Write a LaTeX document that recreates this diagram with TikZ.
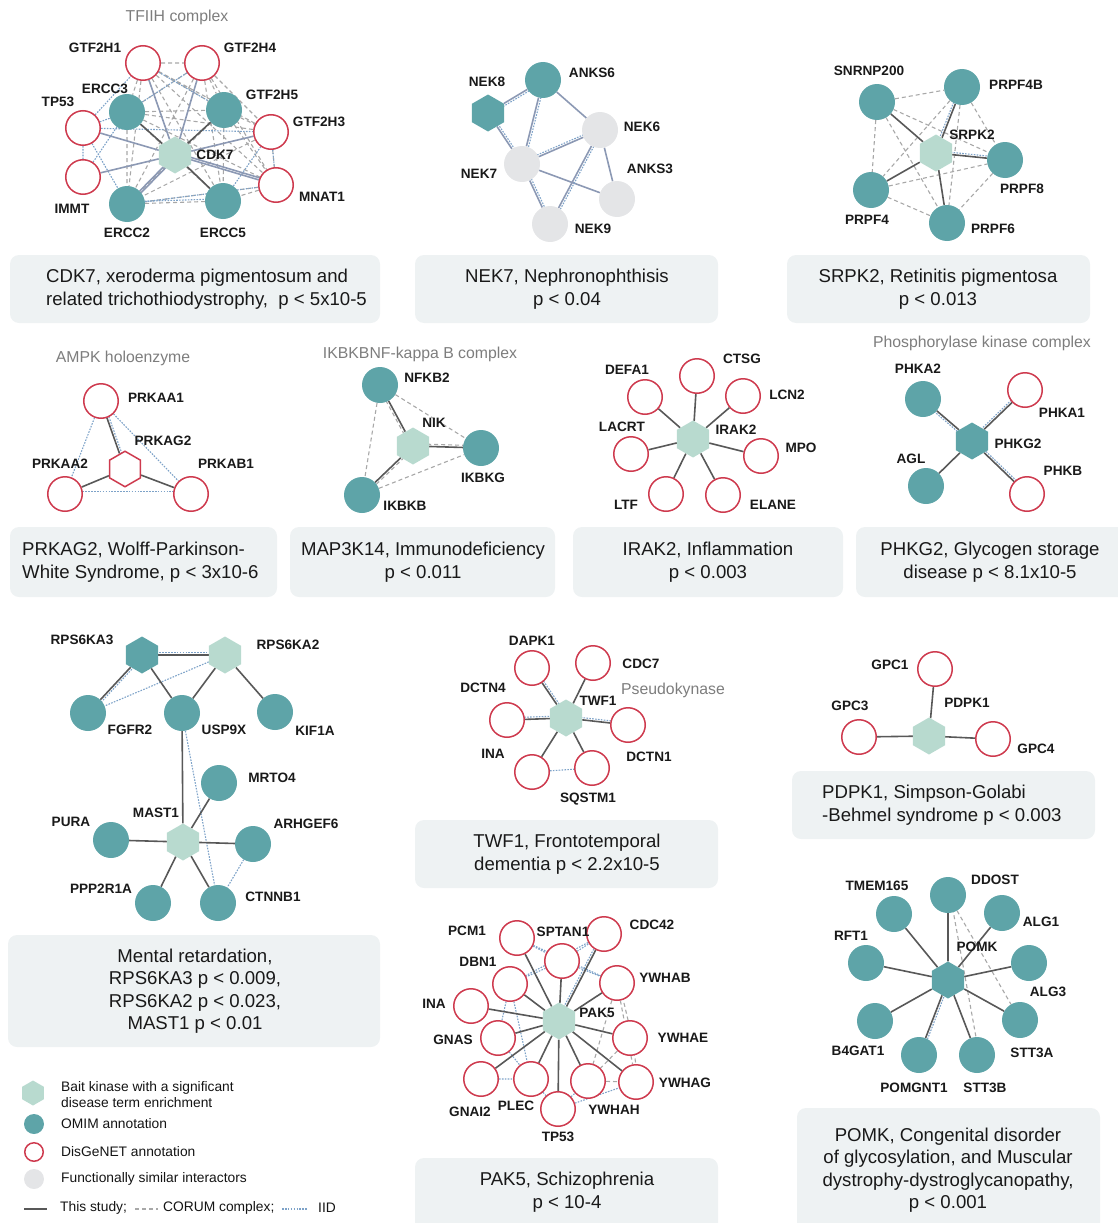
\documentclass[tikz,border=0pt]{standalone}
\usepackage{fontspec}
\setmainfont{Liberation Sans}
\usetikzlibrary{shapes.geometric, calc, backgrounds}

\definecolor{omimteal}{RGB}{94,164,168}
\definecolor{baitgreen}{RGB}{184,218,207}
\definecolor{disred}{RGB}{206,58,78}
\definecolor{simgray}{RGB}{228,229,231}
\definecolor{capfill}{RGB}{238,242,243}
\definecolor{studygray}{RGB}{88,88,88}
\definecolor{slateblue}{RGB}{140,153,180}
\definecolor{corumgray}{RGB}{168,168,168}
\definecolor{iidblue}{RGB}{125,162,200}
\definecolor{titlegray}{RGB}{125,125,125}

% parallel line beside a connector
\newcommand{\edgetwin}[3][iid]{\draw[#1] ($(#2)!2.2pt!90:(#3)$) -- ($(#3)!2.2pt!-90:(#2)$);}

\begin{document}
\begin{tikzpicture}[x=1pt,y=-1pt,
    omim/.style={circle,fill=omimteal,minimum size=36pt,inner sep=0pt},
    disg/.style={circle,draw=disred,line width=1.5pt,fill=white,minimum size=34.5pt,inner sep=0pt},
    simi/.style={circle,fill=simgray,minimum size=36pt,inner sep=0pt},
    bait/.style={regular polygon,regular polygon sides=6,shape border rotate=30,fill=baitgreen,minimum size=37pt,inner sep=0pt},
    baitomim/.style={bait,fill=omimteal},
    baitdis/.style={bait,fill=white,draw=disred,line width=1.5pt,minimum size=35.5pt},
    lab/.style={font=\bfseries\fontsize{13.6}{13.6}\selectfont,text=black!90,inner sep=0pt},
    ttl/.style={font=\fontsize{15.8}{15.8}\selectfont,text=titlegray,inner sep=0pt},
    capbox/.style={fill=capfill,rounded corners=9pt,inner sep=0pt},
    captext/.style={font=\fontsize{18.6}{22.5}\selectfont,text=black!90,align=center,inner sep=0pt},
    legtext/.style={font=\fontsize{13.8}{16}\selectfont,text=black!92,align=left,inner sep=0pt,anchor=west},
    study/.style={draw=studygray,line width=1.6pt},
    slate/.style={draw=slateblue,line width=1.6pt},
    corum/.style={draw=corumgray,line width=1.1pt,dash pattern=on 4pt off 3pt},
    iid/.style={draw=iidblue,line width=1.1pt,dash pattern=on 1.6pt off 1.3pt}]
  \useasboundingbox (0,0) rectangle (1118,1223);

  % CDK7 panel
  \node[ttl] (tfiih) at (177,17) {TFIIH complex};
  \node[disg] (gtf2h1) at (143,63) {};
  \node[disg] (gtf2h4) at (202,63) {};
  \node[omim] (ercc3) at (127,112) {};
  \node[omim] (gtf2h5) at (224,110) {};
  \node[disg] (tp53a) at (83,128) {};
  \node[disg] (gtf2h3) at (271,132) {};
  \node[bait] (cdk7) at (175,155) {};
  \node[disg] (immt) at (83,177) {};
  \node[disg] (mnat1) at (276,185) {};
  \node[omim] (ercc2) at (127,204) {};
  \node[omim] (ercc5) at (223,201) {};
  \node[lab] (gtf2h1-l) at (95,48) {GTF2H1};
  \node[lab] (gtf2h4-l) at (250,48) {GTF2H4};
  \node[lab] (ercc3-l) at (105,89) {ERCC3};
  \node[lab] (gtf2h5-l) at (272,95) {GTF2H5};
  \node[lab] (tp53a-l) at (58,102) {TP53};
  \node[lab] (gtf2h3-l) at (319,122) {GTF2H3};
  \node[lab] (cdk7-l) at (215,155) {CDK7};
  \node[lab] (immt-l) at (72,209) {IMMT};
  \node[lab] (mnat1-l) at (322,197) {MNAT1};
  \node[lab] (ercc2-l) at (127,233) {ERCC2};
  \node[lab] (ercc5-l) at (223,233) {ERCC5};
  \begin{scope}[on background layer]
    \draw[corum] (gtf2h1) -- (gtf2h4) (gtf2h1) -- (gtf2h5) (gtf2h1) -- (gtf2h3) (gtf2h1) -- (mnat1)
      (gtf2h1) -- (ercc2) (gtf2h1) -- (ercc5) (gtf2h1) -- (ercc3) (gtf2h4) -- (ercc3)
      (gtf2h4) -- (gtf2h3) (gtf2h4) -- (mnat1) (gtf2h4) -- (ercc2) (gtf2h4) -- (ercc5)
      (gtf2h4) -- (gtf2h5) (ercc3) -- (gtf2h5) (ercc3) -- (gtf2h3) (ercc3) -- (mnat1)
      (ercc3) -- (ercc2) (ercc3) -- (ercc5) (gtf2h5) -- (gtf2h3) (gtf2h5) -- (mnat1)
      (gtf2h5) -- (ercc2) (gtf2h5) -- (ercc5) (gtf2h3) -- (mnat1) (gtf2h3) -- (ercc2)
      (mnat1) -- (ercc2) (mnat1) -- (ercc5) (ercc2) -- (ercc5);
    \draw[iid] (tp53a) -- (gtf2h1) (tp53a) -- (ercc3) (tp53a) -- (ercc2) (tp53a) -- (immt)
      (tp53a) -- (gtf2h3) (immt) -- (ercc3) (ercc2) -- (mnat1) (ercc5) -- (gtf2h3)
      (gtf2h4) -- (ercc3) (gtf2h3) -- (mnat1) (gtf2h1) -- (gtf2h5);
    \edgetwin{ercc2}{ercc5}
    \draw[slate] (cdk7) -- (gtf2h1) (cdk7) -- (gtf2h4) (cdk7) -- (tp53a) (cdk7) -- (immt)
      (cdk7) -- (gtf2h3) (cdk7) -- (mnat1) (cdk7) -- (ercc2);
    \edgetwin[slate]{cdk7}{mnat1}
    \edgetwin[slate]{cdk7}{ercc2}
    \draw[study] (cdk7) -- (ercc3) (cdk7) -- (gtf2h5) (cdk7) -- (ercc5);
  \end{scope}
  \node[capbox,minimum width=370pt,minimum height=68pt] (box1) at (195,289) {};
  \node[captext,align=left,anchor=west] (cap1) at (46,289) {CDK7, xeroderma pigmentosum and\\related trichothiodystrophy,\ \ p < 5x10-5};

  % NEK7 panel
  \node[omim] (anks6) at (543,80) {};
  \node[baitomim] (nek8) at (488,113) {};
  \node[simi] (nek6) at (600,130) {};
  \node[simi] (nek7) at (522,164) {};
  \node[simi] (anks3) at (617,199) {};
  \node[simi] (nek9) at (550,224) {};
  \node[lab] (anks6-l) at (592,73) {ANKS6};
  \node[lab] (nek8-l) at (487,82) {NEK8};
  \node[lab] (nek6-l) at (642,127) {NEK6};
  \node[lab] (nek7-l) at (479,174) {NEK7};
  \node[lab] (anks3-l) at (650,169) {ANKS3};
  \node[lab] (nek9-l) at (593,229) {NEK9};
  \begin{scope}[on background layer]
    \draw[slate] (anks6) -- (nek8) (anks6) -- (nek7) (anks6) -- (nek6) (nek8) -- (nek7)
      (nek7) -- (nek6) (nek7) -- (anks3) (nek7) -- (nek9) (nek6) -- (anks3) (nek6) -- (nek9);
    \edgetwin{anks6}{nek8}
    \edgetwin{anks6}{nek7}
    \edgetwin{nek8}{nek7}
    \edgetwin{nek7}{nek6}
    \edgetwin{nek7}{nek9}
    \edgetwin{nek6}{nek9}
  \end{scope}
  \node[capbox,minimum width=303pt,minimum height=68pt] (box2) at (566.5,289) {};
  \node[captext] (cap2) at (567,289) {NEK7, Nephronophthisis\\p < 0.04};

  % SRPK2 panel
  \node[omim] (snrnp200) at (877,102) {};
  \node[omim] (prpf4b) at (962,87) {};
  \node[bait] (srpk2) at (936,153) {};
  \node[omim] (prpf8) at (1005,160) {};
  \node[omim] (prpf4) at (871,190) {};
  \node[omim] (prpf6) at (947,223) {};
  \node[lab] (snrnp200-l) at (869,71) {SNRNP200};
  \node[lab] (prpf4b-l) at (1016,85) {PRPF4B};
  \node[lab] (srpk2-l) at (972,135) {SRPK2};
  \node[lab] (prpf8-l) at (1022,189) {PRPF8};
  \node[lab] (prpf4-l) at (867,220) {PRPF4};
  \node[lab] (prpf6-l) at (993,229) {PRPF6};
  \begin{scope}[on background layer]
    \draw[corum] (snrnp200) -- (prpf4b) (snrnp200) -- (prpf8) (snrnp200) -- (prpf4) (snrnp200) -- (prpf6)
      (prpf4b) -- (prpf4) (prpf4b) -- (prpf8) (prpf4b) -- (prpf6) (prpf4) -- (prpf8)
      (prpf4) -- (prpf6) (prpf8) -- (prpf6);
    \edgetwin{srpk2}{prpf4b}
    \edgetwin{srpk2}{prpf8}
    \draw[study] (srpk2) -- (snrnp200) (srpk2) -- (prpf4b) (srpk2) -- (prpf8) (srpk2) -- (prpf4) (srpk2) -- (prpf6);
  \end{scope}
  \node[capbox,minimum width=303pt,minimum height=68pt] (box3) at (938.5,289) {};
  \node[captext] (cap3) at (938,289) {SRPK2, Retinitis pigmentosa\\p < 0.013};

  % PRKAG2 panel
  \node[ttl] (ampk) at (123,358) {AMPK holoenzyme};
  \node[disg] (prkaa1) at (101,401) {};
  \node[baitdis] (prkag2) at (125,469) {};
  \node[disg] (prkaa2) at (65,494) {};
  \node[disg] (prkab1) at (191,494) {};
  \node[lab] (prkaa1-l) at (156,398) {PRKAA1};
  \node[lab] (prkag2-l) at (163,441) {PRKAG2};
  \node[lab] (prkaa2-l) at (60,464) {PRKAA2};
  \node[lab] (prkab1-l) at (226,464) {PRKAB1};
  \begin{scope}[on background layer]
    \draw[iid] (prkaa1) -- (prkaa2) (prkaa1) -- (prkab1);
    \edgetwin{prkaa1}{prkag2}
    \edgetwin{prkaa2}{prkab1}
    \draw[study] (prkag2) -- (prkaa1) (prkag2) -- (prkaa2) (prkag2) -- (prkab1);
  \end{scope}
  \node[capbox,minimum width=267pt,minimum height=70pt] (box4) at (143.5,562) {};
  \node[captext,align=left,anchor=west] (cap4) at (22,562) {PRKAG2, Wolff-Parkinson-\\White Syndrome, p < 3x10-6};

  % MAP3K14 panel
  \node[ttl] (nfkb) at (420,354) {IKBKBNF-kappa B complex};
  \node[omim] (nfkb2) at (380,385) {};
  \node[bait] (nik) at (413,446) {};
  \node[omim] (ikbkg) at (481,448) {};
  \node[omim] (ikbkb) at (362,495) {};
  \node[lab] (nfkb2-l) at (427,378) {NFKB2};
  \node[lab] (nik-l) at (434,423) {NIK};
  \node[lab] (ikbkg-l) at (483,478) {IKBKG};
  \node[lab] (ikbkb-l) at (405,506) {IKBKB};
  \begin{scope}[on background layer]
    \draw[corum] (nfkb2) -- (ikbkg) (nfkb2) -- (ikbkb) (ikbkb) -- (ikbkg);
    \edgetwin[corum]{nik}{nfkb2}
    \edgetwin[corum]{nik}{ikbkg}
    \edgetwin[corum]{nik}{ikbkb}
    \draw[study] (nik) -- (nfkb2) (nik) -- (ikbkg) (nik) -- (ikbkb);
  \end{scope}
  \node[capbox,minimum width=265pt,minimum height=70pt] (box5) at (422.5,562) {};
  \node[captext] (cap5) at (423,562) {MAP3K14, Immunodeficiency\\p < 0.011};

  % IRAK2 panel
  \node[bait] (irak2) at (693,439) {};
  \node[disg] (ctsg) at (697,376) {};
  \node[disg] (defa1) at (645,397) {};
  \node[disg] (lcn2) at (743,396) {};
  \node[disg] (lacrt) at (631,454) {};
  \node[disg] (mpo) at (761,456) {};
  \node[disg] (ltf) at (666,494) {};
  \node[disg] (elane) at (723,495) {};
  \node[lab] (defa1-l) at (627,370) {DEFA1};
  \node[lab] (ctsg-l) at (742,359) {CTSG};
  \node[lab] (lcn2-l) at (787,395) {LCN2};
  \node[lab] (lacrt-l) at (622,427) {LACRT};
  \node[lab] (irak2-l) at (736,430) {IRAK2};
  \node[lab] (mpo-l) at (801,448) {MPO};
  \node[lab] (ltf-l) at (626,505) {LTF};
  \node[lab] (elane-l) at (773,505) {ELANE};
  \begin{scope}[on background layer]
    \draw[study] (irak2) -- (ctsg) (irak2) -- (defa1) (irak2) -- (lcn2) (irak2) -- (lacrt)
      (irak2) -- (mpo) (irak2) -- (ltf) (irak2) -- (elane);
  \end{scope}
  \node[capbox,minimum width=270pt,minimum height=70pt] (box6) at (708,562) {};
  \node[captext] (cap6) at (708,562) {IRAK2, Inflammation\\p < 0.003};

  % PHKG2 panel
  \node[ttl] (phk) at (982,343) {Phosphorylase kinase complex};
  \node[omim] (phka2) at (923,399) {};
  \node[disg] (phka1) at (1025,390) {};
  \node[baitomim] (phkg2) at (972,441) {};
  \node[omim] (agl) at (926,486) {};
  \node[disg] (phkb) at (1027,494) {};
  \node[lab] (phka2-l) at (918,369) {PHKA2};
  \node[lab] (phka1-l) at (1062,413) {PHKA1};
  \node[lab] (phkg2-l) at (1018,444) {PHKG2};
  \node[lab] (agl-l) at (911,459) {AGL};
  \node[lab] (phkb-l) at (1063,471) {PHKB};
  \begin{scope}[on background layer]
    \edgetwin{phkg2}{phka2}
    \edgetwin{phkg2}{phka1}
    \edgetwin{phkg2}{phkb}
    \draw[study] (phkg2) -- (phka2) (phkg2) -- (phka1) (phkg2) -- (agl) (phkg2) -- (phkb);
  \end{scope}
  \node[capbox,minimum width=274pt,minimum height=70pt] (box7) at (993,562) {};
  \node[captext] (cap7) at (990,562) {PHKG2, Glycogen storage\\disease p < 8.1x10-5};

  % mental retardation panel
  \node[baitomim] (rps6ka3) at (142,655) {};
  \node[bait] (rps6ka2) at (225,655) {};
  \node[omim] (fgfr2) at (88,713) {};
  \node[omim] (usp9x) at (182,713) {};
  \node[omim] (kif1a) at (275,712) {};
  \node[omim] (mrto4) at (219,783) {};
  \node[bait] (mast1) at (183,842) {};
  \node[omim] (pura) at (111,840) {};
  \node[omim] (arhgef6) at (253,844) {};
  \node[omim] (ppp2r1a) at (153,903) {};
  \node[omim] (ctnnb1) at (218,903) {};
  \node[lab] (rps6ka3-l) at (82,640) {RPS6KA3};
  \node[lab] (rps6ka2-l) at (288,645) {RPS6KA2};
  \node[lab] (fgfr2-l) at (130,730) {FGFR2};
  \node[lab] (usp9x-l) at (224,730) {USP9X};
  \node[lab] (kif1a-l) at (315,731) {KIF1A};
  \node[lab] (mrto4-l) at (272,778) {MRTO4};
  \node[lab] (mast1-l) at (156,813) {MAST1};
  \node[lab] (pura-l) at (71,822) {PURA};
  \node[lab] (arhgef6-l) at (306,824) {ARHGEF6};
  \node[lab] (ppp2r1a-l) at (101,889) {PPP2R1A};
  \node[lab] (ctnnb1-l) at (273,897) {CTNNB1};
  \begin{scope}[on background layer]
    \edgetwin{rps6ka3}{rps6ka2}
    \edgetwin{rps6ka3}{fgfr2}
    \draw[iid] (rps6ka2) -- (fgfr2) (usp9x) -- (ctnnb1) (arhgef6) -- (ctnnb1);
    \draw[study] (rps6ka3) -- (rps6ka2) (rps6ka3) -- (fgfr2) (rps6ka3) -- (usp9x) (rps6ka2) -- (usp9x)
      (rps6ka2) -- (kif1a) (usp9x) -- (mast1) (mast1) -- (mrto4) (mast1) -- (pura)
      (mast1) -- (arhgef6) (mast1) -- (ppp2r1a) (mast1) -- (ctnnb1);
  \end{scope}
  \node[capbox,minimum width=372pt,minimum height=112pt] (box8) at (194,991) {};
  \node[captext] (cap8) at (195,991) {Mental retardation,\\RPS6KA3 p < 0.009,\\RPS6KA2 p < 0.023,\\MAST1 p < 0.01};

  % TWF1 panel
  \node[bait] (twf1) at (566,718) {};
  \node[disg] (dapk1) at (532,668) {};
  \node[disg] (cdc7) at (593,663) {};
  \node[disg] (dctn4) at (507,720) {};
  \node[disg] (dctn1) at (628,725) {};
  \node[disg] (ina) at (532,772) {};
  \node[disg] (sqstm1) at (592,768) {};
  \node[lab] (dapk1-l) at (532,641) {DAPK1};
  \node[lab] (cdc7-l) at (641,664) {CDC7};
  \node[ttl] (pseudo) at (673,690) {Pseudokynase};
  \node[lab] (twf1-l) at (598,701) {TWF1};
  \node[lab] (dctn4-l) at (483,688) {DCTN4};
  \node[lab] (dctn1-l) at (649,757) {DCTN1};
  \node[lab] (ina-l) at (493,754) {INA};
  \node[lab] (sqstm1-l) at (588,799) {SQSTM1};
  \begin{scope}[on background layer]
    \edgetwin{dapk1}{twf1}
    \edgetwin{dctn4}{twf1}
    \edgetwin{twf1}{dctn1}
    \draw[iid] (ina) -- (sqstm1);
    \draw[study] (twf1) -- (dapk1) (twf1) -- (cdc7) (twf1) -- (dctn4) (twf1) -- (dctn1)
      (twf1) -- (ina) (twf1) -- (sqstm1);
  \end{scope}
  \node[capbox,minimum width=303pt,minimum height=68pt] (box9) at (566.5,854) {};
  \node[captext] (cap9) at (567,854) {TWF1, Frontotemporal\\dementia p < 2.2x10-5};

  % PDPK1 panel
  \node[disg] (gpc1) at (935,669) {};
  \node[bait] (pdpk1) at (929,736) {};
  \node[disg] (gpc3) at (859,737) {};
  \node[disg] (gpc4) at (993,739) {};
  \node[lab] (gpc1-l) at (890,665) {GPC1};
  \node[lab] (pdpk1-l) at (967,703) {PDPK1};
  \node[lab] (gpc3-l) at (850,706) {GPC3};
  \node[lab] (gpc4-l) at (1036,749) {GPC4};
  \begin{scope}[on background layer]
    \draw[study] (pdpk1) -- (gpc1) (pdpk1) -- (gpc3) (pdpk1) -- (gpc4);
  \end{scope}
  \node[capbox,minimum width=303pt,minimum height=68pt] (box10) at (943.5,805) {};
  \node[captext,align=left,anchor=west] (cap10) at (822,805) {PDPK1, Simpson-Golabi\\-Behmel syndrome p < 0.003};

  % PAK5 panel
  \node[bait] (pak5) at (559,1021) {};
  \node[disg] (pcm1) at (517,938) {};
  \node[disg] (sptan1) at (562,961) {};
  \node[disg] (cdc42) at (604,934) {};
  \node[disg] (dbn1) at (510,984) {};
  \node[disg] (ywhab) at (617,983) {};
  \node[disg] (inab) at (471,1006) {};
  \node[disg] (gnas) at (498,1038) {};
  \node[disg] (ywhae) at (630,1038) {};
  \node[disg] (gnai2) at (481,1079) {};
  \node[disg] (plec) at (531,1079) {};
  \node[disg] (ywhah) at (588,1081) {};
  \node[disg] (ywhag) at (636,1082) {};
  \node[disg] (tp53b) at (558,1109) {};
  \node[lab] (pcm1-l) at (467,931) {PCM1};
  \node[lab] (sptan1-l) at (563,932) {SPTAN1};
  \node[lab] (cdc42-l) at (652,925) {CDC42};
  \node[lab] (dbn1-l) at (478,962) {DBN1};
  \node[lab] (ywhab-l) at (665,978) {YWHAB};
  \node[lab] (inab-l) at (434,1004) {INA};
  \node[lab] (pak5-l) at (597,1013) {PAK5};
  \node[lab] (gnas-l) at (453,1040) {GNAS};
  \node[lab] (ywhae-l) at (683,1038) {YWHAE};
  \node[lab] (ywhag-l) at (685,1083) {YWHAG};
  \node[lab] (gnai2-l) at (470,1112) {GNAI2};
  \node[lab] (plec-l) at (516,1106) {PLEC};
  \node[lab] (ywhah-l) at (614,1110) {YWHAH};
  \node[lab] (tp53b-l) at (558,1137) {TP53};
  \begin{scope}[on background layer]
    \draw[corum] (ywhab) -- (ywhag) (ywhab) -- (ywhah) (ywhae) -- (ywhah) (ywhah) -- (ywhag);
    \edgetwin[corum]{ywhab}{ywhae}
    \edgetwin[corum]{ywhae}{ywhag}
    \draw[iid] (pcm1) -- (sptan1) (pcm1) -- (ywhab) (sptan1) -- (cdc42) (sptan1) -- (dbn1)
      (sptan1) -- (ywhab) (dbn1) -- (gnas) (dbn1) -- (plec) (gnas) -- (plec) (gnai2) -- (plec)
      (plec) -- (tp53b) (tp53b) -- (ywhah) (tp53b) -- (ywhag) (cdc42) -- (dbn1);
    \edgetwin{pak5}{cdc42}
    \draw[study] (pak5) -- (pcm1) (pak5) -- (sptan1) (pak5) -- (cdc42) (pak5) -- (dbn1)
      (pak5) -- (ywhab) (pak5) -- (inab) (pak5) -- (gnas) (pak5) -- (ywhae) (pak5) -- (gnai2)
      (pak5) -- (plec) (pak5) -- (ywhah) (pak5) -- (ywhag) (pak5) -- (tp53b);
  \end{scope}
  \node[capbox,minimum width=303pt,minimum height=80pt] (box11) at (566.5,1198) {};
  \node[captext] (cap11) at (567,1192) {PAK5, Schizophrenia\\p < 10-4};

  % POMK panel
  \node[baitomim] (pomk) at (948,980) {};
  \node[omim] (ddost) at (948,895) {};
  \node[omim] (tmem165) at (894,914) {};
  \node[omim] (alg1) at (1002,913) {};
  \node[omim] (rft1) at (866,963) {};
  \node[omim] (alg3) at (1029,963) {};
  \node[omim] (b4gat1) at (875,1021) {};
  \node[omim] (stt3a) at (1020,1020) {};
  \node[omim] (pomgnt1) at (919,1055) {};
  \node[omim] (stt3b) at (977,1055) {};
  \node[lab] (tmem165-l) at (877,886) {TMEM165};
  \node[lab] (ddost-l) at (995,880) {DDOST};
  \node[lab] (alg1-l) at (1041,922) {ALG1};
  \node[lab] (rft1-l) at (851,936) {RFT1};
  \node[lab] (pomk-l) at (977,947) {POMK};
  \node[lab] (alg3-l) at (1048,992) {ALG3};
  \node[lab] (b4gat1-l) at (858,1051) {B4GAT1};
  \node[lab] (stt3a-l) at (1032,1053) {STT3A};
  \node[lab] (pomgnt1-l) at (914,1088) {POMGNT1};
  \node[lab] (stt3b-l) at (985,1088) {STT3B};
  \begin{scope}[on background layer]
    \draw[corum] (ddost) -- (stt3a);
    \edgetwin[corum]{ddost}{stt3b}
    \edgetwin{pomk}{pomgnt1}
    \draw[study] (pomk) -- (ddost) (pomk) -- (tmem165) (pomk) -- (alg1) (pomk) -- (rft1)
      (pomk) -- (alg3) (pomk) -- (b4gat1) (pomk) -- (stt3a) (pomk) -- (pomgnt1) (pomk) -- (stt3b);
  \end{scope}
  \node[capbox,minimum width=303pt,minimum height=130pt] (box12) at (948.5,1173) {};
  \node[captext] (cap12) at (948,1170) {POMK, Congenital disorder\\of glycosylation, and Muscular\\dystrophy-dystroglycanopathy,\\p < 0.001};

  % legend
  \node[bait,minimum size=25pt] (lgbait) at (33,1093) {};
  \node[legtext] (lgbait-t) at (61,1095) {Bait kinase with a significant\\disease term enrichment};
  \node[omim,minimum size=20pt] (lgomim) at (34,1124) {};
  \node[legtext] (lgomim-t) at (61,1124) {OMIM annotation};
  \node[disg,minimum size=18.5pt] (lgdis) at (34,1152) {};
  \node[legtext] (lgdis-t) at (61,1152) {DisGeNET annotation};
  \node[simi,minimum size=20pt] (lgsim) at (34,1179) {};
  \node[legtext] (lgsim-t) at (61,1179) {Functionally similar interactors};
  \draw[study,line width=2.6pt] (24,1209) -- (47,1209);
  \node[legtext] (lgstudy) at (60,1208) {This study;};
  \draw[corum] (135,1209) -- (158,1209);
  \node[legtext] (lgcorum) at (163,1208) {CORUM complex;};
  \draw[iid] (282,1209) -- (307,1209);
  \node[legtext] (lgiid) at (318,1208) {IID};
\end{tikzpicture}
\end{document}
